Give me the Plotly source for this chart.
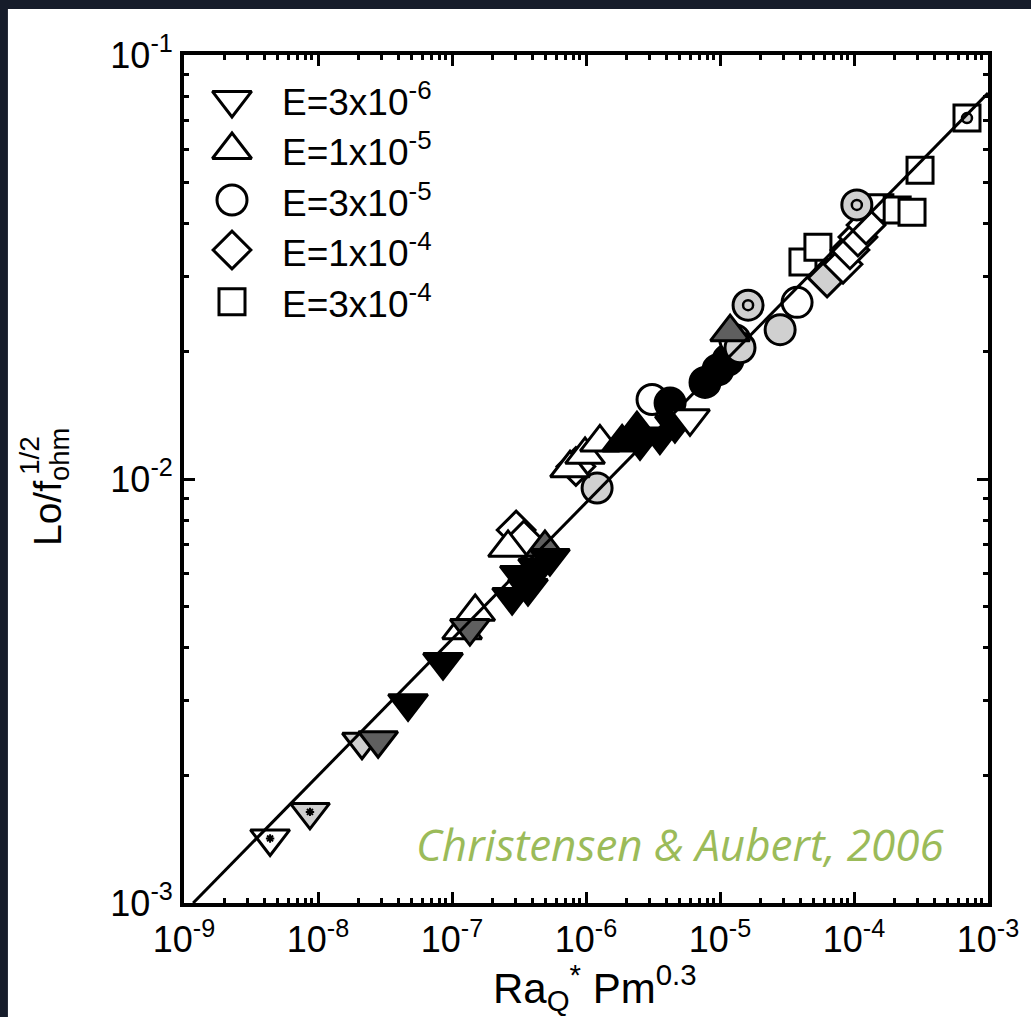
import plotly.graph_objects as go

# ---------------- data ----------------
# E = 3e-6 : downward triangles
tri_down_x = [4.39e-9, 8.71e-9, 2.13e-8, 2.81e-8, 4.70e-8, 8.57e-8, 1.36e-7,
              2.81e-7, 3.21e-7, 3.69e-7, 4.39e-7, 5.38e-7,
              2.53e-6, 3.56e-6, 4.61e-6, 5.97e-6]
tri_down_y = [1.42e-3, 1.64e-3, 2.40e-3, 2.42e-3, 2.96e-3, 3.70e-3, 4.45e-3,
              5.27e-3, 5.94e-3, 5.53e-3, 6.17e-3, 6.51e-3,
              1.22e-2, 1.26e-2, 1.34e-2, 1.39e-2]
tri_down_fill = ["white", "light", "light", "dark", "black", "black", "dark",
                 "black", "black", "black", "black", "black",
                 "black", "black", "black", "white"]
tri_down_mark = ["asterisk", "asterisk", "", "", "", "", "",
                 "", "", "", "", "", "", "", "", ""]

# E = 1e-5 : upward triangles
tri_up_x = [1.19e-7, 1.49e-7, 2.62e-7, 4.94e-7, 7.60e-7, 9.84e-7, 1.27e-6,
            1.86e-6, 2.40e-6, 1.19e-5]
tri_up_y = [4.40e-3, 4.86e-3, 6.88e-3, 6.88e-3, 1.06e-2, 1.14e-2, 1.22e-2,
            1.22e-2, 1.31e-2, 2.22e-2]
tri_up_fill = ["white", "white", "white", "dark", "white", "white", "white",
               "black", "black", "dark"]

# E = 3e-5 : circles
circ_x = [1.21e-6, 3.11e-6, 4.24e-6, 7.73e-6, 9.66e-6, 1.15e-5, 1.29e-5,
          1.41e-5, 1.62e-5, 2.81e-5, 3.76e-5, 1.05e-4]
circ_y = [9.52e-3, 1.54e-2, 1.51e-2, 1.69e-2, 1.81e-2, 1.91e-2, 2.13e-2,
          2.04e-2, 2.57e-2, 2.25e-2, 2.61e-2, 4.43e-2]
circ_fill = ["light", "white", "black", "black", "black", "black", "white",
             "light", "light", "light", "white", "light"]
circ_mark = ["", "", "", "", "", "", "", "", "dot", "", "", "dot"]

# E = 1e-4 : diamonds
diam_x = [3.01e-7, 3.44e-7, 8.41e-7, 6.30e-5, 8.28e-5, 9.33e-5, 1.07e-4, 1.23e-4]
diam_y = [7.58e-3, 7.18e-3, 1.07e-2, 2.98e-2, 3.21e-2, 3.47e-2, 3.72e-2, 3.97e-2]
diam_fill = ["white", "white", "white", "light", "white", "white", "white", "white"]

# E = 3e-4 : squares
sq_x = [4.16e-5, 5.38e-5, 1.56e-4, 2.10e-4, 2.71e-4, 3.11e-4, 6.97e-4]
sq_y = [3.25e-2, 3.52e-2, 4.36e-2, 4.31e-2, 4.26e-2, 5.35e-2, 7.10e-2]
sq_fill = ["white", "white", "white", "white", "white", "white", "white"]
sq_mark = ["", "", "", "", "", "", "dot"]

# fitted power law line (end points)
fit_x = [1.17e-9, 1.0e-3]
fit_y = [1.0e-3, 8.13e-2]

legend_labels = ["E=3x10<sup>-6</sup>", "E=1x10<sup>-5</sup>", "E=3x10<sup>-5</sup>",
                 "E=1x10<sup>-4</sup>", "E=3x10<sup>-4</sup>"]
x_tick_vals = [1e-9, 1e-8, 1e-7, 1e-6, 1e-5, 1e-4, 1e-3]
x_tick_text = ["10<sup>-9</sup>", "10<sup>-8</sup>", "10<sup>-7</sup>", "10<sup>-6</sup>",
               "10<sup>-5</sup>", "10<sup>-4</sup>", "10<sup>-3</sup>"]
y_tick_vals = [1e-3, 1e-2, 1e-1]
y_tick_text = ["10<sup>-3</sup>", "10<sup>-2</sup>", "10<sup>-1</sup>"]

# ---------------- styling ----------------
FILL = {"white": "#ffffff", "light": "#d0d0d0", "dark": "#5f5f5f", "black": "#000000"}
FONT = "Liberation Sans, Arial, sans-serif"
LW = 3

fig = go.Figure()


def add_series(xs, ys, fills, symbol, size):
    fig.add_trace(go.Scatter(
        x=xs, y=ys, mode="markers", showlegend=False, hoverinfo="skip",
        marker=dict(symbol=symbol, size=size, color=[FILL[f] for f in fills],
                    line=dict(color="black", width=LW))))


def add_marks(xs, ys, marks):
    ax = [x for x, m in zip(xs, marks) if m == "asterisk"]
    ay = [y for y, m in zip(ys, marks) if m == "asterisk"]
    if ax:
        fig.add_trace(go.Scatter(x=ax, y=ay, mode="markers", showlegend=False,
                                 hoverinfo="skip",
                                 marker=dict(symbol="asterisk-open", size=7, color="black",
                                             line=dict(color="black", width=2))))
    dx = [x for x, m in zip(xs, marks) if m == "dot"]
    dy = [y for y, m in zip(ys, marks) if m == "dot"]
    if dx:
        fig.add_trace(go.Scatter(x=dx, y=dy, mode="markers", showlegend=False,
                                 hoverinfo="skip",
                                 marker=dict(symbol="circle", size=10, color="#d0d0d0",
                                             line=dict(color="black", width=2.5))))


add_series(sq_x, sq_y, sq_fill, "square", 26)
add_series(diam_x, diam_y, diam_fill, "diamond", 29)
add_series(circ_x, circ_y, circ_fill, "circle", 30)
add_series(tri_up_x, tri_up_y, tri_up_fill, "triangle-up", 34)
add_series(tri_down_x, tri_down_y, tri_down_fill, "triangle-down", 34)
add_marks(sq_x, sq_y, sq_mark)
add_marks(circ_x, circ_y, circ_mark)
add_marks(tri_down_x, tri_down_y, tri_down_mark)

fig.add_trace(go.Scatter(x=fit_x, y=fit_y, mode="lines", showlegend=False,
                         hoverinfo="skip", line=dict(color="black", width=3)))

# custom legend on an overlay axis
leg_symbols = ["triangle-down", "triangle-up", "circle", "diamond", "square"]
leg_sizes = [34, 34, 30, 29, 26]
leg_y = [0.947, 0.888, 0.829, 0.770, 0.709]
for sym, sz, yy in zip(leg_symbols, leg_sizes, leg_y):
    fig.add_trace(go.Scatter(x=[0.0597], y=[yy], xaxis="x2", yaxis="y2", mode="markers",
                             showlegend=False, hoverinfo="skip",
                             marker=dict(symbol=sym, size=sz, color="white",
                                         line=dict(color="black", width=LW))))
for lab, yy in zip(legend_labels, leg_y):
    fig.add_annotation(x=0.120, y=yy, xref="paper", yref="paper", text=lab,
                       showarrow=False, xanchor="left", yanchor="middle",
                       font=dict(family=FONT, size=37, color="black"))

minor_x = [m * 10.0 ** e for e in range(-9, -3) for m in range(2, 10)]
minor_y = [m * 10.0 ** e for e in range(-3, -1) for m in range(2, 10)]

axis_common = dict(type="log", showgrid=False, zeroline=False, showline=True,
                   linecolor="black", linewidth=4, mirror="ticks", ticks="inside",
                   ticklen=11, tickwidth=3, tickcolor="black",
                   tickfont=dict(family=FONT, size=36, color="black"))

fig.update_layout(
    width=1031, height=1017,
    margin=dict(l=184, r=43, t=55, b=114),
    paper_bgcolor="#161c2a", plot_bgcolor="white",
    showlegend=False,
    xaxis=dict(range=[-9, -3], tickmode="array", tickvals=x_tick_vals, ticktext=x_tick_text,
               ticklabelstandoff=2,
               minor=dict(tickmode="array", tickvals=minor_x, ticks="inside", ticklen=5,
                          tickwidth=2.5, tickcolor="black"),
               **axis_common),
    yaxis=dict(range=[-3, -1], tickmode="array", tickvals=y_tick_vals, ticktext=y_tick_text,
               minor=dict(tickmode="array", tickvals=minor_y, ticks="inside", ticklen=5,
                          tickwidth=2.5, tickcolor="black"),
               **axis_common),
    xaxis2=dict(overlaying="x", range=[0, 1], visible=False),
    yaxis2=dict(overlaying="y", range=[0, 1], visible=False),
    shapes=[dict(type="rect", xref="paper", yref="paper", layer="below",
                 x0=-0.219, x1=1.06, y0=-0.14, y1=1.0542,
                 fillcolor="white", line=dict(width=0))],
)

# y-axis title: "Lo/f" with stacked ohm (sub) and 1/2 (sup)
fig.add_annotation(x=-0.166, y=0.49, xref="paper", yref="paper", xanchor="center",
                   yanchor="middle", showarrow=False, textangle=-90,
                   text="Lo/f<sub>ohm</sub>",
                   font=dict(family=FONT, size=39, color="black"))
fig.add_annotation(x=-0.193, y=0.528, xref="paper", yref="paper", xanchor="center",
                   yanchor="middle", showarrow=False, textangle=-90,
                   text="1/2",
                   font=dict(family=FONT, size=28, color="black"))
# x-axis title
fig.add_annotation(x=0.511, y=-0.100, xref="paper", yref="paper", xanchor="center",
                   yanchor="middle", showarrow=False,
                   text="Ra<sub>Q</sub><sup>*</sup> Pm<sup>0.3</sup>",
                   font=dict(family=FONT, size=42, color="black"))
fig.add_annotation(x=0.948, y=0.07, xref="paper", yref="paper", xanchor="right",
                   yanchor="middle", showarrow=False,
                   text="<i>Christensen &amp; Aubert, 2006</i>",
                   font=dict(family="Open Sans, sans-serif", size=44, color="#9bbb59"))

fig.write_html("out.html")
